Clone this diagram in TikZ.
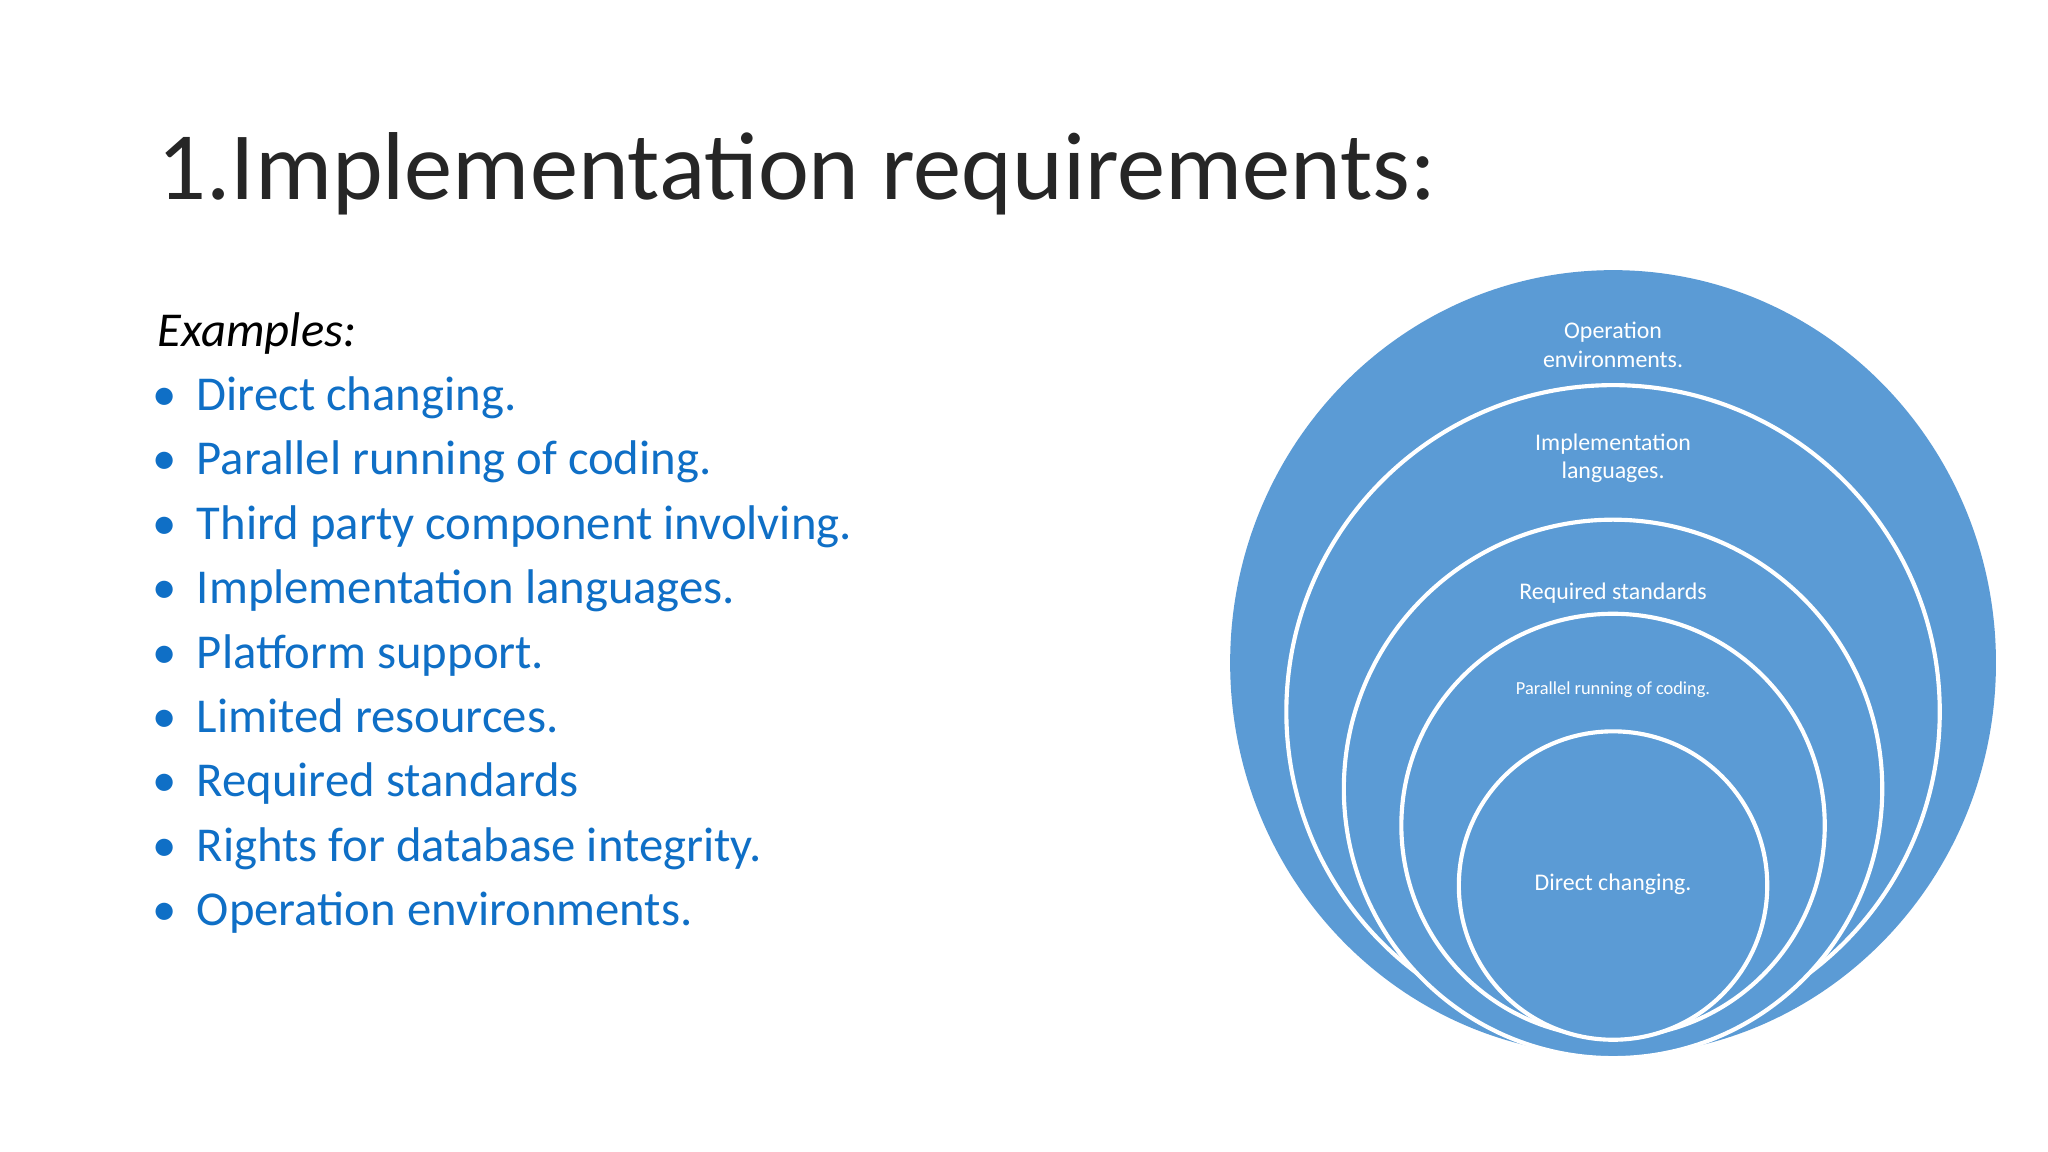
\documentclass[tikz,border=0pt]{standalone}
\usepackage{fontspec}
\setmainfont{Carlito}
\definecolor{txtblue}{HTML}{0F6FC6}
\definecolor{ringblue}{HTML}{5B9BD5}
\begin{document}
\begin{tikzpicture}[x=0.01cm,y=-0.01cm,
  ring/.style={fill=ringblue,draw=white,line width=0.9pt},
  bul/.style={anchor=base west,inner sep=0,font=\fontsize{10.6}{12}\selectfont,text=txtblue},
  dot/.style={anchor=base,inner sep=0,font=\fontsize{10.6}{12}\selectfont,text=txtblue},
  lab/.style={align=center,text=white,inner sep=0,font=\fontsize{5.2}{6.2}\selectfont}]
\fill[white] (0,0) rectangle (1568,882);
\node[anchor=base west,inner sep=0,font=\fontsize{21}{24}\selectfont,text=black!85] (title) at (120,153) {1.Implementation requirements:};
\node[anchor=base west,inner sep=0,font=\fontsize{10.6}{12}\selectfont\itshape] (ex) at (120,265) {Examples:};
\foreach \t [count=\i] in {Direct changing.,Parallel running of coding.,Third party component involving.,Implementation languages.,Platform support.,Limited resources.,Required standards,Rights for database integrity.,Operation environments.}{
  \node[dot] (d\i) at (126,{265+49.3*\i}) {•};
  \node[bul] (b\i) at (150,{265+49.3*\i}) {\t};
}
\fill[ringblue] (1235,507.5) ellipse [x radius=2.93cm, y radius=3.005cm];
\draw[ring] (1235,545) circle [radius=2.50cm];
\draw[ring] (1235,604) circle [radius=2.06cm];
\draw[ring] (1235,632) circle [radius=1.62cm];
\draw[ring] (1235,678) circle [radius=1.18cm];
\node[lab] (l1) at (1235,264) {Operation\\environments.};
\node[lab] (l2) at (1235,351) {Implementation\\languages.};
\node[lab] (l3) at (1235,454) {Required standards};
\node[lab,font=\fontsize{4}{5}\selectfont] (l4) at (1235,528) {Parallel running of coding.};
\node[lab] (l5) at (1235,677) {Direct changing.};
\end{tikzpicture}
\end{document}
